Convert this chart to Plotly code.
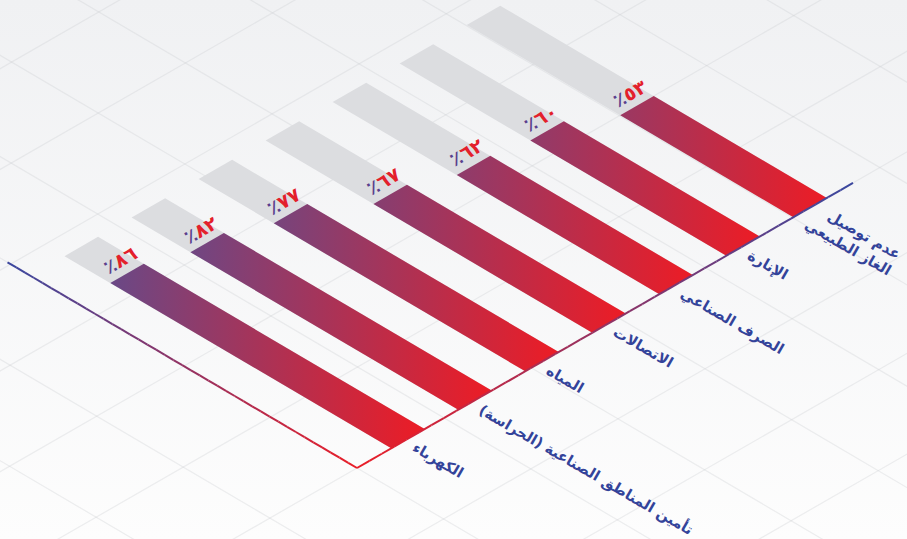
import numpy as np
import plotly.graph_objects as go

# ---------------- data ----------------
categories = [
    "الكهرباء",
    "تأمين المناطق الصناعية (الحراسة)",
    "المياه",
    "الاتصالات",
    "الصرف الصناعي",
    "الإنارة",
    "عدم توصيل<br>الغاز الطبيعي",
]
values = [86, 82, 77, 67, 62, 60, 53]
value_labels = ["٨٦", "٨٢", "٧٧", "٦٧", "٦٢", "٦٠", "٥٣"]
percent_sign = "٪"
max_value = 100

# ---------------- isometric projection ----------------
W, H = 907, 539
ORIGIN = np.array([357.0, 468.0])
BAND = 77.3          # px per category along the base line
PX_PER_PCT = 3.79    # px per percent along the bars
EU = np.array([0.8671, -0.4983])   # category direction (up-right)
EV = np.array([-0.8618, -0.5072])  # value direction (up-left)
BAR_START, BAR_W = 0.51, 0.50
BASE_LEN = 7.4
AXIS_LEN = 107


def proj(u, v):
    return ORIGIN + EU * u * BAND + EV * v * PX_PER_PCT


def hex2rgb(h):
    h = h.lstrip("#")
    return np.array([int(h[i:i + 2], 16) for i in (0, 2, 4)], dtype=float)


def mix(c1, c2, t):
    c = hex2rgb(c1) * (1 - t) + hex2rgb(c2) * t
    return "rgb(%d,%d,%d)" % tuple(np.round(c))


RED = "#ea1d27"
PURPLE = "#554f96"
BLUE = "#3a48a0"
GRAY = "#dcdde0"
LABEL = "#33439a"

fig = go.Figure()

# background
fig.add_trace(go.Scatter(
    x=[0, W, W, 0, 0], y=[0, 0, H, H, 0], mode="lines", fill="toself",
    line=dict(width=0), hoverinfo="skip",
    fillgradient=dict(type="vertical", start=0, stop=H,
                      colorscale=[[0, "#f0f1f3"], [1, "#fdfdfd"]]),
))

# isometric grid
G = 1.3  # grid spacing in category units
gx, gy = [], []
for k in range(-12, 14):
    a = proj(k * G, -150)
    b = proj(k * G, 250)
    gx += [a[0], b[0], None]
    gy += [a[1], b[1], None]
    c = proj(-10, k * G * BAND / PX_PER_PCT)
    d = proj(20, k * G * BAND / PX_PER_PCT)
    gx += [c[0], d[0], None]
    gy += [c[1], d[1], None]
fig.add_trace(go.Scatter(x=gx, y=gy, mode="lines", hoverinfo="skip",
                         line=dict(color="rgba(200,201,206,0.3)", width=1.2)))

# bars
for i, val in enumerate(values):
    u0, u1 = i + BAR_START, i + BAR_START + BAR_W
    pts = [proj(u0, 0), proj(u1, 0), proj(u1, max_value), proj(u0, max_value), proj(u0, 0)]
    fig.add_trace(go.Scatter(x=[p[0] for p in pts], y=[p[1] for p in pts], mode="lines",
                             fill="toself", fillcolor=GRAY, line=dict(width=0), hoverinfo="skip"))
for i, val in enumerate(values):
    u0, u1 = i + BAR_START, i + BAR_START + BAR_W
    pts = [proj(u0, 0), proj(u1, 0), proj(u1, val), proj(u0, val), proj(u0, 0)]
    top = proj((u0 + u1) / 2, val)
    bot = proj((u0 + u1) / 2, 0)
    fig.add_trace(go.Scatter(
        x=[p[0] for p in pts], y=[p[1] for p in pts], mode="lines", fill="toself",
        line=dict(width=0), hoverinfo="skip",
        fillgradient=dict(type="horizontal", start=top[0] - 15, stop=bot[0] + 10,
                          colorscale=[[0, mix(RED, PURPLE, val / max_value)], [1, RED]]),
    ))

# axis lines with gradient
shapes = []
N = 40
for j in range(N):
    t0, t1 = j / N, (j + 1) / N
    a = proj(0, AXIS_LEN * (1 - t0))
    b = proj(0, AXIS_LEN * (1 - t1))
    shapes.append(dict(type="line", x0=a[0], y0=a[1], x1=b[0], y1=b[1], xref="x", yref="y",
                       line=dict(color=mix(BLUE, RED, (t0 + t1) / 2), width=2)))
    a = proj(BASE_LEN * t0, 0)
    b = proj(BASE_LEN * t1, 0)
    shapes.append(dict(type="line", x0=a[0], y0=a[1], x1=b[0], y1=b[1], xref="x", yref="y",
                       line=dict(color=mix(RED, BLUE, (t0 + t1) / 2), width=2)))

annotations = []
FONT = "DejaVu Sans"
# value labels
for i, (val, lbl) in enumerate(zip(values, value_labels)):
    top = proj(i + BAR_START + BAR_W / 2, val)
    annotations.append(dict(
        x=top[0] - 7, y=top[1] - 13, xref="x", yref="y", showarrow=False,
        textangle=-30, xanchor="center", yanchor="middle",
        text='<b><span style="color:%s">%s</span><span style="color:%s">%s</span></b>'
             % ("#5a3f8d", percent_sign, "#e3202b", lbl),
        font=dict(family=FONT, size=19),
    ))
# category labels
for i, cat in enumerate(categories):
    base = proj(i + BAR_START + BAR_W / 2, 0)
    nl = cat.count("<br>") + 1
    hh = 19 * nl
    tl = base + np.array([8, -2 - 8 * (nl - 1)])
    annotations.append(dict(
        x=tl[0] - 0.5 * hh, y=tl[1], xref="x", yref="y", showarrow=False,
        textangle=30, xanchor="left", yanchor="top", align="right",
        text="<b>%s</b>" % cat, font=dict(family=FONT, size=14.5, color=LABEL),
    ))

fig.update_layout(
    width=W, height=H, margin=dict(l=0, r=0, t=0, b=0),
    paper_bgcolor="#fafbfb", plot_bgcolor="#fafbfb", showlegend=False,
    xaxis=dict(range=[0, W], visible=False, fixedrange=True),
    yaxis=dict(range=[H, 0], visible=False, fixedrange=True),
    shapes=shapes, annotations=annotations,
)
fig.write_html("out.html")
